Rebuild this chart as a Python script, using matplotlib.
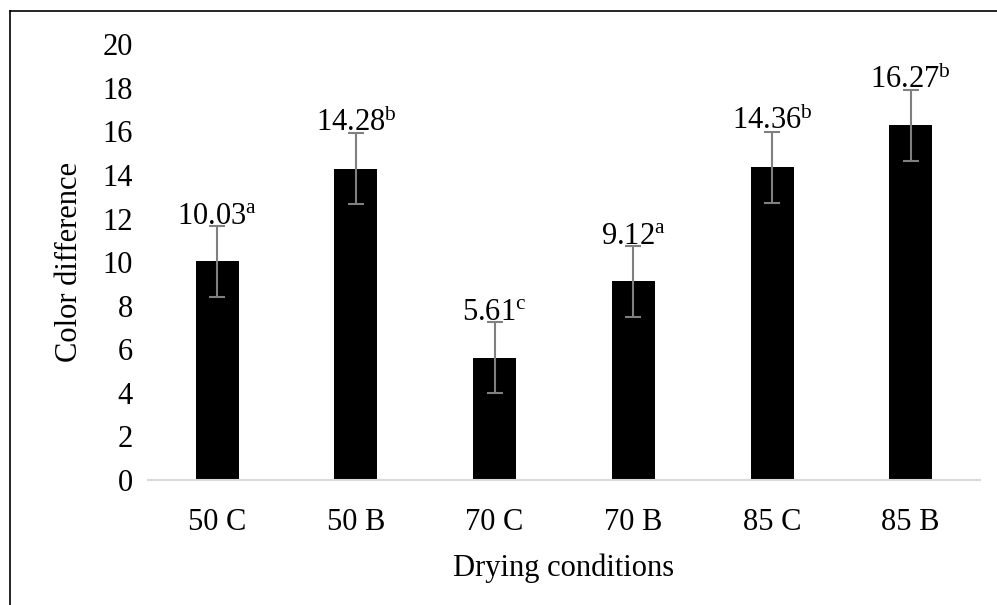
import matplotlib
matplotlib.use("Agg")
import matplotlib.pyplot as plt
from matplotlib.lines import Line2D

categories = ["50 C", "50 B", "70 C", "70 B", "85 C", "85 B"]
values = [10.03, 14.28, 5.61, 9.12, 14.36, 16.27]
errors = [1.63, 1.63, 1.63, 1.63, 1.63, 1.63]
letters = ["a", "b", "c", "a", "b", "b"]
yticks = [0, 2, 4, 6, 8, 10, 12, 14, 16, 18, 20]

plt.rcParams['font.family'] = ['Liberation Serif', 'DejaVu Serif']
plt.rcParams['mathtext.fontset'] = 'custom'
plt.rcParams['mathtext.rm'] = 'Liberation Serif'
plt.rcParams['mathtext.it'] = 'Liberation Serif:italic'

FS = 22

fig = plt.figure(figsize=(9.97, 6.05), dpi=100)
ax = fig.add_axes([0.1484, 0.2066, 0.8346, 0.7204])

x = list(range(len(categories)))
ax.bar(x, values, width=0.31, color='black', zorder=2)
ax.errorbar(x, values, yerr=errors, fmt='none', ecolor='#808080',
            elinewidth=1.5, capsize=5.5, capthick=1.5, zorder=3)
for xi, v, e, l in zip(x, values, errors, letters):
    ax.text(xi, v + e + 0.1, f"{v:.2f}" + r"$^{\mathrm{" + l + "}}$",
            ha='center', va='baseline', fontsize=FS)

ax.set_xlim(-0.5, len(categories) - 0.5)
ax.set_ylim(0, 20)
ax.set_yticks(yticks)
ax.set_xticks(x)
ax.set_xticklabels(categories)
ax.tick_params(axis='both', length=0, labelsize=FS)
ax.tick_params(axis='x', pad=20)
ax.tick_params(axis='y', pad=11)
for s in ['top', 'right', 'left']:
    ax.spines[s].set_visible(False)
ax.spines['bottom'].set_color('#d9d9d9')
ax.spines['bottom'].set_linewidth(1.5)

ax.set_ylabel("Color difference", fontsize=FS, labelpad=13)
ax.set_xlabel("Drying conditions", fontsize=FS, labelpad=12)

fig.add_artist(Line2D([10/997, 10/997], [0, 1 - 11/605], color='black', lw=1.2, transform=fig.transFigure))
fig.add_artist(Line2D([10/997, 1], [1 - 11/605, 1 - 11/605], color='black', lw=1.2, transform=fig.transFigure))

fig.savefig("out.png", dpi=100)
